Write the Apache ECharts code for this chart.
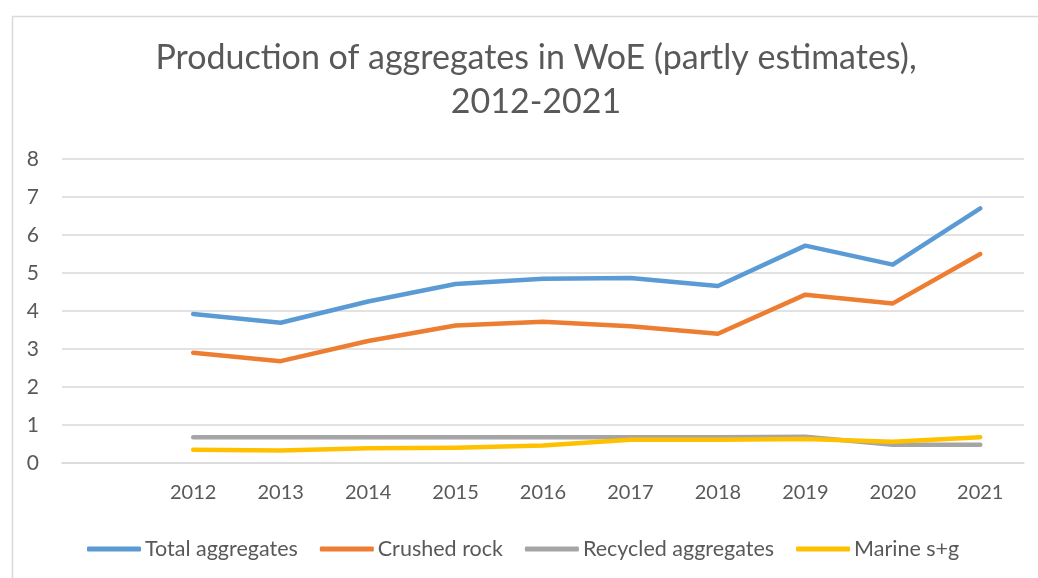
<!DOCTYPE html>
<html>
<head>
<meta charset="utf-8">
<script src="https://cdn.jsdelivr.net/npm/echarts@6/dist/echarts.min.js"></script>
<style>
html,body{margin:0;padding:0;background:#fff;}
#chart{width:1038px;height:578px;}
</style>
</head>
<body>
<div id="chart"></div>
<script>
const years = ['2012','2013','2014','2015','2016','2017','2018','2019','2020','2021'];
const totalAggregates = [3.92, 3.69, 4.25, 4.71, 4.85, 4.87, 4.66, 5.72, 5.22, 6.70];
const crushedRock = [2.90, 2.68, 3.21, 3.62, 3.72, 3.60, 3.40, 4.43, 4.20, 5.50];
const recycledAggregates = [0.68, 0.68, 0.68, 0.68, 0.68, 0.68, 0.68, 0.69, 0.48, 0.48];
const marineSG = [0.35, 0.33, 0.39, 0.40, 0.46, 0.61, 0.61, 0.63, 0.56, 0.68];
const yTicks = [0, 1, 2, 3, 4, 5, 6, 7, 8];

const FONT = 'Lato, "Open Sans", sans-serif';
const TXT = '#595959';
const categories = [''].concat(years);
const pad = arr => [null].concat(arr);

const chart = echarts.init(document.getElementById('chart'), null, {renderer: 'canvas'});
function mk(name, data, color) {
  return {
    name: name, type: 'line', data: pad(data), showSymbol: false, symbol: 'none',
    lineStyle: {color: color, width: 4.5, cap: 'round', join: 'round'},
    itemStyle: {color: color}, animation: false
  };
}
chart.setOption({
  animation: false,
  graphic: [{
    type: 'rect', left: 10, top: 14, silent: true,
    shape: {width: 1100, height: 700},
    style: {fill: 'none', stroke: '#D9D9D9', lineWidth: 1.5}
  }],
  title: {
    text: 'Production of aggregates in WoE (partly estimates),\n2012-2021',
    left: 531, top: 31,
    textAlign: 'center',
    textStyle: {fontFamily: FONT, fontSize: 34, fontWeight: 'normal', color: TXT, lineHeight: 44}
  },
  legend: {
    data: ['Total aggregates', 'Crushed rock', 'Recycled aggregates', 'Marine s+g'],
    left: 82, top: 533,
    icon: 'roundRect', itemWidth: 54, itemHeight: 5, itemGap: 22,
    textStyle: {fontFamily: FONT, fontSize: 21.5, color: TXT, padding: [0, 0, 0, -1]}
  },
  grid: {left: 62, right: 14, top: 159, bottom: 115, containLabel: false},
  xAxis: {
    type: 'category', data: categories, boundaryGap: true,
    axisLine: {show: true, lineStyle: {color: '#D9D9D9', width: 1.5}},
    axisTick: {show: false},
    axisLabel: {fontFamily: FONT, fontSize: 20, color: TXT, margin: 20, interval: 0},
    splitLine: {show: false}
  },
  yAxis: {
    type: 'value', min: yTicks[0], max: yTicks[yTicks.length - 1], interval: 1,
    axisLine: {show: false}, axisTick: {show: false},
    axisLabel: {fontFamily: FONT, fontSize: 21, color: TXT, margin: 23},
    splitLine: {lineStyle: {color: '#D9D9D9', width: 1.5}}
  },
  series: [
    mk('Total aggregates', totalAggregates, '#5B9BD5'),
    mk('Crushed rock', crushedRock, '#ED7D31'),
    mk('Recycled aggregates', recycledAggregates, '#A5A5A5'),
    mk('Marine s+g', marineSG, '#FFC000')
  ]
});
</script>
</body>
</html>
